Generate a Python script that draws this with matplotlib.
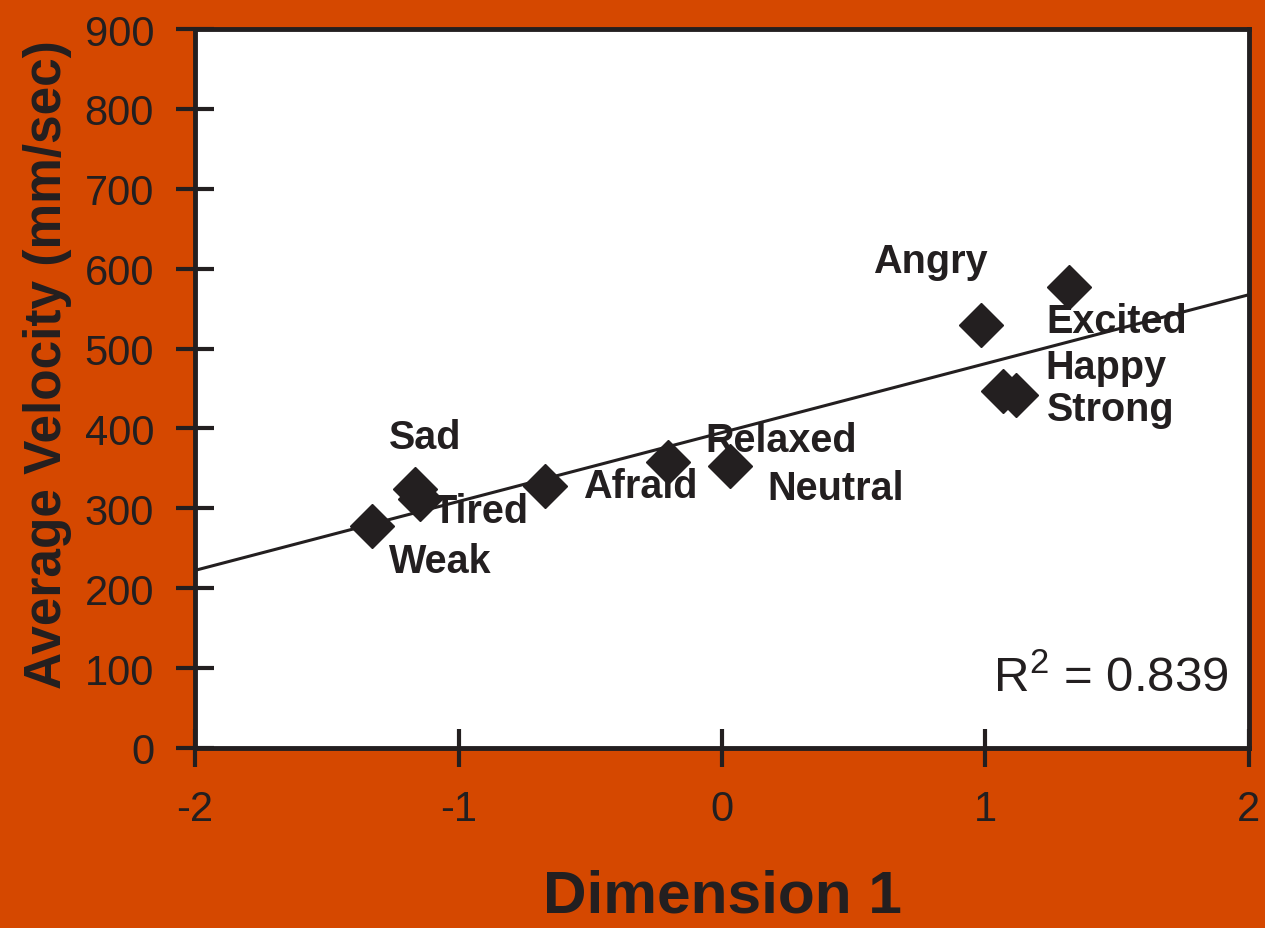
import numpy as np
import matplotlib
matplotlib.use("Agg")
import matplotlib.pyplot as plt

matplotlib.rc('font', family='Liberation Sans')
matplotlib.rc('mathtext', fontset='custom', rm='Liberation Sans')

# emotion labels, Dimension 1 score and average velocity (mm/sec)
emotions = ['Weak', 'Sad', 'Tired', 'Afraid', 'Relaxed', 'Neutral',
            'Angry', 'Excited', 'Happy', 'Strong']
dim1 = [-1.33, -1.165, -1.146, -0.672, -0.205, 0.03, 0.983, 1.317, 1.066, 1.116]
velocity = [278, 324, 312, 328, 358, 353, 529, 577, 447, 442]

# where each label text sits (data coords, left edge / vertical centre)
label_x = [-1.264, -1.264, -1.10, -0.528, -0.064, 0.171, 0.573, 1.233, 1.226, 1.233]
label_y = [234, 389, 297, 328, 385, 325, 609, 534, 477, 424]

xticks = [-2, -1, 0, 1, 2]
yticks = [0, 100, 200, 300, 400, 500, 600, 700, 800, 900]

orange = '#D54800'
dark = '#231F20'

fig = plt.figure(figsize=(12.79, 9.29), dpi=100, facecolor=orange)
ax = fig.add_axes([0.1525, 0.1938, 0.8240, 0.7739])
ax.set_facecolor('white')

# white strip at the far right edge
fig.patches.append(plt.Rectangle((0.9893, 0), 0.0107, 1, transform=fig.transFigure,
                                 facecolor='white', edgecolor='none'))

# linear trend
slope, icpt = np.polyfit(dim1, velocity, 1)
xs = np.array([-2, 2])
ax.plot(xs, slope * xs + icpt, color=dark, lw=2.2, zorder=2)

ax.plot(dim1, velocity, linestyle='none', marker='D', markersize=22,
        color=dark, markeredgecolor=dark, zorder=3)

for name, lx, ly in zip(emotions, label_x, label_y):
    ax.text(lx, ly, name, fontsize=28.5, fontweight='bold', color=dark,
            ha='left', va='center', zorder=4)

ax.text(1.028, 70, r'$\mathrm{R}^{2}$ = 0.839', fontsize=35.5, color=dark,
        ha='left', va='baseline')

ax.set_xlim(-2, 2)
ax.set_ylim(0, 900)
ax.set_xticks(xticks)
ax.set_yticks(yticks)
ax.set_xticklabels([str(t) for t in xticks])
ax.tick_params(direction='inout', length=27, width=3, color=dark,
               labelsize=30, labelcolor=dark)
ax.tick_params(axis='y', pad=16)
ax.tick_params(axis='x', pad=16)
for sp in ax.spines.values():
    sp.set_linewidth(3.5)
    sp.set_color(dark)

ax.set_xlabel('Dimension 1', fontsize=43.5, fontweight='bold', color=dark)
ax.set_ylabel('Average Velocity (mm/sec)', fontsize=37, fontweight='bold', color=dark)
ax.xaxis.set_label_coords(0.5, -0.168)
ax.yaxis.set_label_coords(-0.117, 0.534)

fig.savefig('out.png', dpi=100, facecolor=orange)
